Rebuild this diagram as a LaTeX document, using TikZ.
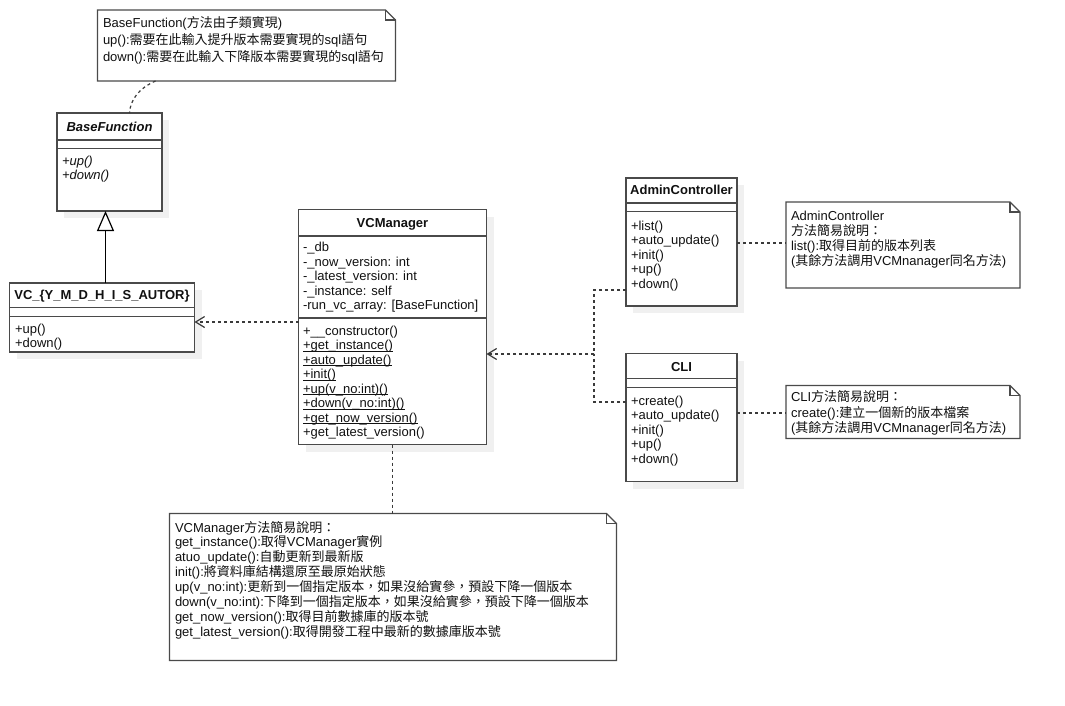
\documentclass[tikz,border=0pt]{standalone}
\usepackage{fontspec}
\setmainfont{Liberation Sans}
\newfontfamily\cjkfont{Noto Sans CJK TC}
\newcommand\zh[1]{{\cjkfont #1}}
\newcommand\topstrut{\rule{0pt}{12pt}}
% static (class-scope) members: underline placed just below the baseline
\newcommand\stat[1]{\underline{\smash{#1}}}
\usetikzlibrary{arrows.meta,shadows}
\definecolor{linec}{HTML}{4A4A4A}
\definecolor{dashc}{HTML}{3A3A3A}
\definecolor{shadowc}{HTML}{F0F0F0}
\definecolor{textc}{HTML}{111111}

\begin{document}
\begin{tikzpicture}[x=1pt,y=-1pt,
  every node/.style={inner sep=0pt, outer sep=0pt, text=textc},
  classbox/.style={draw=linec, line width=1.3pt, fill=white, anchor=north west,
    drop shadow={shadow xshift=7pt, shadow yshift=-7pt, fill=shadowc, opacity=1}},
  sepline/.style={draw=linec, line width=1.3pt},
  notearea/.style={anchor=north west},
  noteline/.style={draw=linec, line width=1.3pt, fill=white, line join=miter},
  ctitle/.style={anchor=base, font={\fontsize{13}{14.5}\selectfont\bfseries}},
  members/.style={anchor=north west, align=left,
    font={\fontsize{13}{14.5}\selectfont\lineskiplimit=-100pt}},
  notetext/.style={anchor=north west, align=left,
    font={\fontsize{13}{#1}\selectfont\lineskiplimit=-100pt}},
  dep/.style={draw=dashc, line width=1.2pt, dash pattern=on 3pt off 3pt},
  opentip/.style={-{Straight Barb[length=9pt, width=11pt, line width=1.2pt]}},
  gen/.style={draw=black, line width=1.2pt, -{Triangle[open, length=20pt, width=17pt, line width=1.2pt, fill=white]}},
]
\useasboundingbox (0,0) rectangle (1065,706);
\fill[white] (0,0) rectangle (1065,706);

% dog-eared note outline drawn around a placeholder node
\newcommand\notepath[1]{%
  \path[noteline] (#1.north west) -- ([xshift=-10pt]#1.north east)
    -- ([yshift=-10pt]#1.north east) -- (#1.south east) -- (#1.south west) -- cycle;
  \draw[linec, line width=1.3pt] ([xshift=-10pt]#1.north east)
    -- ([xshift=-10pt, yshift=-10pt]#1.north east) -- ([yshift=-10pt]#1.north east);}

% ---------- BaseFunction ----------
\node[classbox, minimum width=105pt, minimum height=98pt] (bf) at (57,113) {};
\node[ctitle] (bf-t) at (109.5,131.3) {\textit{BaseFunction}};
\draw[sepline] (bf.west |- 0,140) -- (bf.east |- 0,140);
\draw[sepline] (bf.west |- 0,148.5) -- (bf.east |- 0,148.5);
\node[members, font={\fontsize{13}{14.5}\selectfont\itshape}] (bf-m) at (62,153)
  {\topstrut+up()\\+down()};

% ---------- VC_{...} ----------
\node[classbox, minimum width=185pt, minimum height=69pt] (vc) at (9.5,283) {};
\node[ctitle] (vc-t) at (102,299.5) {VC\_\{Y\_M\_D\_H\_I\_S\_AUTOR\}};
\draw[sepline] (vc.west |- 0,307.5) -- (vc.east |- 0,307.5);
\draw[sepline] (vc.west |- 0,316.5) -- (vc.east |- 0,316.5);
\node[members] (vc-m) at (15,321) {\topstrut+up()\\+down()};

% ---------- VCManager ----------
\node[classbox, minimum width=188pt, minimum height=235pt] (vcm) at (298.5,209.5) {};
\node[ctitle] (vcm-t) at (392.5,227.5) {VCManager};
\draw[sepline] (vcm.west |- 0,236) -- (vcm.east |- 0,236);
\node[members] (vcm-a) at (303,239.5)
  {\topstrut-\_db\\-\_now\_version: int\\-\_latest\_version: int\\-\_instance: self\\-run\_vc\_array: [BaseFunction]};
\draw[sepline] (vcm.west |- 0,318) -- (vcm.east |- 0,318);
\node[members] (vcm-m) at (303,323)
  {\topstrut+\_\_constructor()\\\stat{+get\_instance()}\\\stat{+auto\_update()}\\\stat{+init()}\\
   \stat{+up(v\_no:int)()}\\\stat{+down(v\_no:int)()}\\\stat{+get\_now\_version()}\\+get\_latest\_version()};

% ---------- AdminController ----------
\node[classbox, minimum width=111pt, minimum height=128pt] (adm) at (626,178) {};
\node[ctitle] (adm-t) at (681.5,194.5) {AdminController};
\draw[sepline] (adm.west |- 0,203) -- (adm.east |- 0,203);
\draw[sepline] (adm.west |- 0,211.5) -- (adm.east |- 0,211.5);
\node[members] (adm-m) at (631,218)
  {\topstrut+list()\\+auto\_update()\\+init()\\+up()\\+down()};

% ---------- CLI ----------
\node[classbox, minimum width=111pt, minimum height=128pt] (cli) at (626,353.5) {};
\node[ctitle] (cli-t) at (681.5,371) {CLI};
\draw[sepline] (cli.west |- 0,378.5) -- (cli.east |- 0,378.5);
\draw[sepline] (cli.west |- 0,387.5) -- (cli.east |- 0,387.5);
\node[members] (cli-m) at (631,393)
  {\topstrut+create()\\+auto\_update()\\+init()\\+up()\\+down()};

% ---------- notes ----------
\node[notearea, minimum width=298pt, minimum height=71pt] (n1) at (97.5,10) {};
\notepath{n1}
\node[notetext=17] (n1-t) at (103,15.5)
  {\topstrut BaseFunction(\zh{方法由子類實現})\\
   up():\zh{需要在此輸入提升版本需要實現的}sql\zh{語句}\\
   down():\zh{需要在此輸入下降版本需要實現的}sql\zh{語句}};

\node[notearea, minimum width=234pt, minimum height=86pt] (n2) at (786,202) {};
\notepath{n2}
\node[notetext=15] (n2-t) at (791,208)
  {\topstrut AdminController\\
   \zh{方法簡易說明：}\\
   list():\zh{取得目前的版本列表}\\
   (\zh{其餘方法調用}VCMnanager\zh{同名方法})};

\node[notearea, minimum width=234pt, minimum height=53pt] (n3) at (786,385.5) {};
\notepath{n3}
\node[notetext=15.5] (n3-t) at (791,389.5)
  {\topstrut CLI\zh{方法簡易說明：}\\
   create():\zh{建立一個新的版本檔案}\\
   (\zh{其餘方法調用}VCMnanager\zh{同名方法})};

\node[notearea, minimum width=447pt, minimum height=147pt] (n4) at (169.5,513.5) {};
\notepath{n4}
\node[notetext=14.9] (n4-t) at (175,520)
  {\topstrut VCManager\zh{方法簡易說明：}\\
   get\_instance():\zh{取得}VCManager\zh{實例}\\
   atuo\_update():\zh{自動更新到最新版}\\
   init():\zh{將資料庫結構還原至最原始狀態}\\
   up(v\_no:int):\zh{更新到一個指定版本，如果沒給實參，預設下降一個版本}\\
   down(v\_no:int):\zh{下降到一個指定版本，如果沒給實參，預設下降一個版本}\\
   get\_now\_version():\zh{取得目前數據庫的版本號}\\
   get\_latest\_version():\zh{取得開發工程中最新的數據庫版本號}};

% ---------- connectors ----------
\coordinate (gx) at (105.5,0);
\coordinate (jn) at (594,354);
\draw[gen] (vc.north -| gx) -- (bf.south -| gx);
\draw[dep, opentip] (vcm.west |- 0,322) -- (vc.east |- 0,322);
\draw[dep, opentip] (adm.west |- 0,290) -| (jn) -- (vcm.east |- jn);
\draw[dep] (cli.west |- 0,402) -| (jn);
\draw[dep] ([xshift=58pt]n1.south west) .. controls +(-16,7) and +(1,-14) .. ([xshift=20pt]bf.north);
\draw[dep] (adm.east |- 0,243) -- (n2.west |- 0,243);
\draw[dep] (cli.east |- 0,413) -- (n3.west |- 0,413);
\draw[dep] (vcm.south -| 392.5,0) -- (n4.north -| 392.5,0);
\end{tikzpicture}
\end{document}
